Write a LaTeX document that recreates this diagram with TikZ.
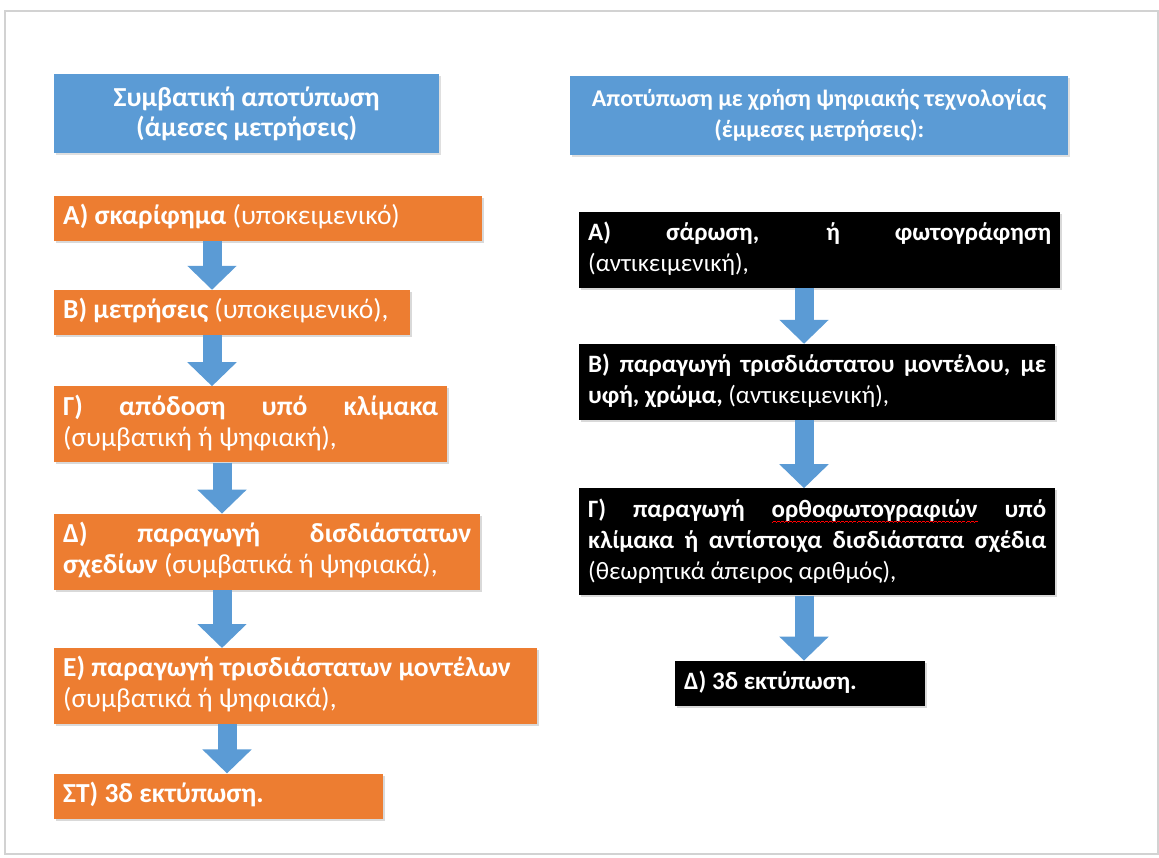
\documentclass[tikz,border=0pt]{standalone}
\usepackage{fontspec}
\setmainfont{Carlito}
\usepackage{tikz}
\usetikzlibrary{positioning, calc, shadows, arrows.meta}
\definecolor{headblue}{HTML}{5B9BD5}
\definecolor{steporange}{HTML}{ED7D31}
\newcommand{\spellwave}[1]{\setbox0\hbox{#1}\rlap{\color{red}\raisebox{-5pt}[0pt][0pt]{\hbox to \wd0{\xleaders\hbox{\rule[-0.8pt]{1pt}{0.8pt}\rule[0pt]{1pt}{0.8pt}\rule[0.8pt]{1pt}{0.8pt}\rule[0pt]{1pt}{0.8pt}}\hfill}}}\box0\relax}
\tikzstyle{header} = [rectangle, minimum height=79pt, text centered, align=center, fill=headblue, text=white, font=\bfseries\fontsize{24}{31}\selectfont, drop shadow={opacity=0.25, shadow xshift=1.5pt, shadow yshift=-1.5pt}]
\tikzstyle{orangebox} = [rectangle, inner xsep=9pt, inner ysep=7pt, align=justify, fill=steporange, text=white, font=\fontsize{27.5}{31}\selectfont, execute at begin node=\strut, execute at end node=\strut, drop shadow={opacity=0.3, shadow xshift=2pt, shadow yshift=-2pt}]
\tikzstyle{blackbox} = [orangebox, fill=black, font=\fontsize{25}{31}\selectfont]
\tikzstyle{flow} = [draw=headblue, line width=19pt, -{Triangle[width=48pt, length=24pt]}]

\begin{document}
\begin{tikzpicture}[node distance=50pt]
    \useasboundingbox (0,0) rectangle (1159pt,-858pt);
    % Frame
    \draw [gray!35, line width=1.5pt] (5pt,-11pt) rectangle (1158pt,-854pt);

    % Headers
    \node (lhead) [header, minimum width=385pt, anchor=north west, font=\bfseries\fontsize{27.5}{30}\selectfont] at (54pt,-74pt) {Συμβατική αποτύπωση\\(άμεσες μετρήσεις)};
    \node (rhead) [header, minimum width=498pt, anchor=north west] at (570pt,-76pt) {Αποτύπωση με χρήση ψηφιακής τεχνολογίας\\(έμμεσες μετρήσεις):};

    % Conventional survey
    \node (la) [orangebox, text width=410pt, below=42pt of lhead.south west, anchor=north west] {\textbf{Α) σκαρίφημα} (υποκειμενικό)};
    \node (lb) [orangebox, text width=338pt, below=49pt of la.south west, anchor=north west] {\textbf{Β) μετρήσεις} (υποκειμενικό),};
    \node (lg) [orangebox, text width=375pt, below=51pt of lb.south west, anchor=north west] {\textbf{Γ) απόδοση υπό κλίμακα}\linebreak (συμβατική ή ψηφιακή),};
    \node (ld) [orangebox, text width=408pt, below=51pt of lg.south west, anchor=north west] {\textbf{Δ) παραγωγή δισδιάστατων}\linebreak \textbf{σχεδίων} (συμβατικά ή ψηφιακά),};
    \node (le) [orangebox, text width=465pt, below=58pt of ld.south west, anchor=north west] {\textbf{Ε) παραγωγή τρισδιάστατων μοντέλων}\\ (συμβατικά ή ψηφιακά),};
    \node (lst) [orangebox, text width=311pt, below=49pt of le.south west, anchor=north west] {\textbf{ΣΤ) 3δ εκτύπωση.}};

    % Digital survey
    \node (ra) [blackbox, text width=463pt, below=56pt of rhead.south west, anchor=north west, xshift=9pt] {\textbf{Α) σάρωση, ή φωτογράφηση}\linebreak (αντικειμενική),};
    \node (rb) [blackbox, text width=458pt, below=56pt of ra.south west, anchor=north west] {\textbf{Β) παραγωγή τρισδιάστατου μοντέλου, με}\linebreak \textbf{υφή, χρώμα,} (αντικειμενική),};
    \node (rg) [blackbox, text width=458pt, below=68pt of rb.south west, anchor=north west] {\textbf{Γ) παραγωγή \spellwave{ορθοφωτογραφιών} υπό}\linebreak \textbf{κλίμακα ή αντίστοιχα δισδιάστατα σχέδια}\linebreak (θεωρητικά άπειρος αριθμός),};
    \node (rd) [blackbox, text width=232pt, below=65pt of rg.south west, anchor=north west, xshift=96pt] {\textbf{Δ) 3δ εκτύπωση.}};

    % Arrows
    \draw [flow] ($(la.south west)+(158pt,0)$) -- ($(lb.north west)+(158pt,0)$);
    \draw [flow] ($(lb.south west)+(158pt,0)$) -- ($(lg.north west)+(158pt,0)$);
    \draw [flow] ($(lg.south west)+(168pt,0)$) -- ($(ld.north west)+(168pt,0)$);
    \draw [flow] ($(ld.south west)+(168pt,0)$) -- ($(le.north west)+(168pt,0)$);
    \draw [flow] ($(le.south west)+(173pt,0)$) -- ($(lst.north west)+(173pt,0)$);
    \draw [flow] ($(ra.south west)+(225pt,0)$) -- ($(rb.north west)+(225pt,0)$);
    \draw [flow] ($(rb.south west)+(225pt,0)$) -- ($(rg.north west)+(225pt,0)$);
    \draw [flow] ($(rg.south west)+(225pt,0)$) -- ($(rd.north west)+(129pt,0)$);
\end{tikzpicture}
\end{document}
